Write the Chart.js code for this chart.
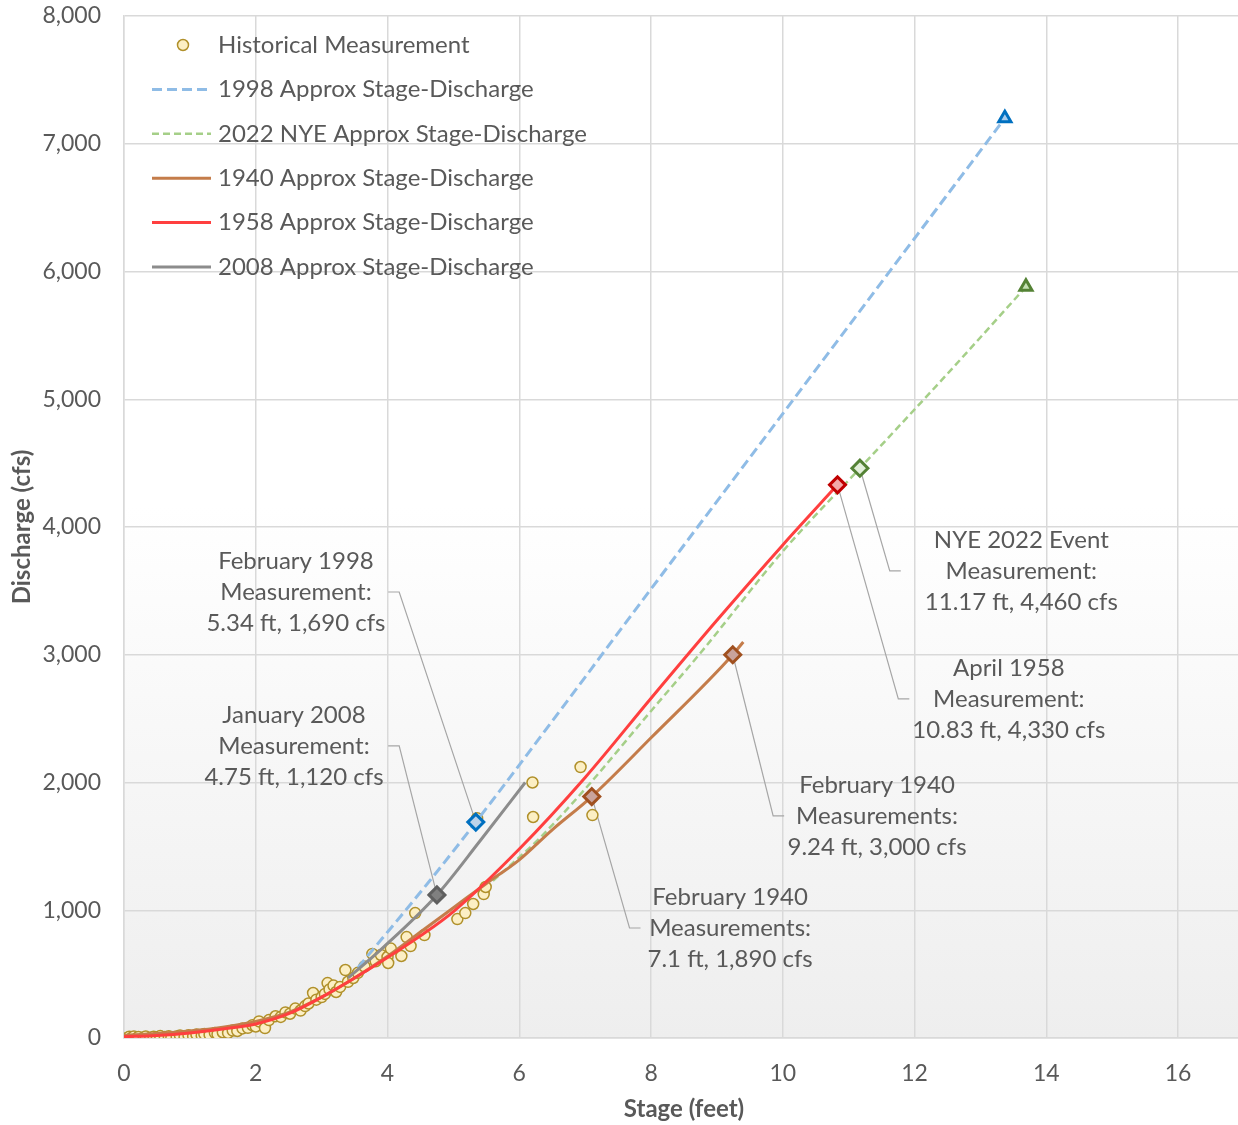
<!DOCTYPE html>
<html>
<head>
<meta charset="utf-8">
<title>Stage-Discharge</title>
<script src="https://cdn.jsdelivr.net/npm/chart.js@4.4.1/dist/chart.umd.min.js"></script>
<style>
  html, body { margin: 0; padding: 0; background: #fff; overflow: hidden; }
  #wrap { width: 1255px; height: 1125px; }
</style>
</head>
<body>
<div id="wrap"><canvas id="chart" width="1255" height="1125"></canvas></div>
<script>
// historical gaugings: stage (ft) / discharge (cfs)
const histStage = [0.05, 0.08, 0.12, 0.15, 0.2, 0.22, 0.3, 0.33, 0.4, 0.45, 0.5, 0.55, 0.62, 0.68, 0.72, 0.8,
  0.85, 0.92, 0.98, 1.05, 1.1, 1.18, 1.22, 1.3, 1.38, 1.42, 1.5, 1.58, 1.65, 1.72, 1.8, 1.88, 1.95, 2.0,
  2.05, 2.14, 2.2, 2.3, 2.38, 2.45, 2.52, 2.6, 2.68, 2.75, 2.8, 2.87, 2.92, 3.0, 3.05, 3.09, 3.12, 3.18,
  3.22, 3.28, 3.36, 3.4, 3.48, 3.55, 3.65, 3.77, 3.82, 3.9, 4.0, 4.01, 4.05, 4.21, 4.29, 4.35, 4.42, 4.56,
  5.06, 5.18, 5.3, 5.46, 5.49, 5.36, 6.2, 6.21, 6.93, 7.11];
const histFlow = [0, 10, 3, 12, 0, 8, 4, 12, 2, 10, 5, 15, 8, 14, 5, 12,
  20, 10, 22, 15, 28, 20, 32, 25, 40, 30, 45, 40, 58, 55, 75, 80, 100, 90,
  130, 78, 140, 170, 165, 200, 190, 230, 215, 250, 270, 352, 300, 320, 345, 430, 380, 410,
  360, 400, 532, 440, 470, 510, 560, 658, 600, 650, 634, 587, 700, 642, 790, 720, 978, 806,
  931, 978, 1049, 1127, 1182, 1720, 2000, 1730, 2121, 1745];

// approximate rating curves
const stage1998 = [3.55, 4.65, 5.34, 8.0, 13.37];
const flow1998 = [550, 1237, 1690, 3515, 7200];
const stage2022 = [5.6, 6.3, 7.0, 8.0, 8.75, 10.0, 11.17, 12.5, 13.69];
const flow2022 = [1230, 1560, 1950, 2560, 3014, 3810, 4460, 5200, 5880];
const stage1940 = [0, 0.5, 1, 1.5, 2, 2.5, 3, 3.5, 4, 4.5, 5, 5.5, 6, 6.5, 7.1, 8, 9.24, 9.4];
const flow1940 = [20, 35, 55, 85, 130, 200, 320, 470, 640, 830, 1020, 1210, 1395, 1630, 1890, 2350, 3000, 3100];
const stage1958 = [0, 0.5, 1, 1.5, 2, 2.5, 3, 3.5, 4, 4.5, 5, 6, 7, 8, 9, 10, 10.83];
const flow1958 = [10, 20, 40, 70, 110, 190, 320, 470, 630, 800, 990, 1480, 2040, 2660, 3270, 3860, 4330];
const stage2008 = [3.4, 3.94, 4.75, 5.4, 6.09];
const flow2008 = [470, 712, 1120, 1540, 2000];

// individual measurements called out on the chart
const measStage = [5.34, 4.75, 7.1, 9.24, 10.83, 11.17];
const measFlow = [1690, 1120, 1890, 3000, 4330, 4460];
const measTitle = ['February 1998', 'January 2008', 'February 1940', 'February 1940', 'April 1958', 'NYE 2022 Event'];
const measWord = ['Measurement:', 'Measurement:', 'Measurements:', 'Measurements:', 'Measurement:', 'Measurement:'];

const xTicks = [0, 2, 4, 6, 8, 10, 12, 14, 16];

const FONT = 'Lato, "Open Sans", sans-serif';
const TXT = '#595959';

function pts(xs, ys) { return xs.map((v, i) => ({ x: v, y: ys[i] })); }
function last(xs, ys) { return [{ x: xs[xs.length - 1], y: ys[ys.length - 1] }]; }

// where each callout text block sits (centre of middle line) and where its leader starts
const calloutPos = [
  { x: 2.61, y: 3491, lead: 4.01 },
  { x: 2.58, y: 2286, lead: 4.01 },
  { x: 9.2, y: 861, lead: 7.84 },
  { x: 11.43, y: 1738, lead: 10.02 },
  { x: 13.43, y: 2654, lead: 11.92 },
  { x: 13.62, y: 3656, lead: 11.79 }
];

const lineBase = { showLine: true, pointRadius: 0, pointHoverRadius: 0, borderWidth: 3,
  tension: 0.4, cubicInterpolationMode: 'monotone', fill: false };

const datasets = [
  { label: 'Historical Measurement', legendRow: 0, data: pts(histStage, histFlow), showLine: false,
    pointRadius: 5.5, pointBorderWidth: 1.5, backgroundColor: '#fcefc4', borderColor: '#b0902a', order: 20 },
  { ...lineBase, label: '1998 Approx Stage-Discharge', legendRow: 1, data: pts(stage1998, flow1998),
    borderColor: '#8fbce6', borderDash: [10, 5], order: 8 },
  { ...lineBase, label: '2022 NYE Approx Stage-Discharge', legendRow: 2, data: pts(stage2022, flow2022),
    borderColor: '#a5cf88', borderWidth: 2.5, borderDash: [7, 4], order: 7 },
  { ...lineBase, label: '1940 Approx Stage-Discharge', legendRow: 3, data: pts(stage1940, flow1940),
    borderColor: '#c47c4a', order: 6 },
  { ...lineBase, label: '1958 Approx Stage-Discharge', legendRow: 4, data: pts(stage1958, flow1958),
    borderColor: '#ff3f3f', order: 4 },
  { ...lineBase, label: '2008 Approx Stage-Discharge', legendRow: 5, data: pts(stage2008, flow2008),
    borderColor: '#8c8c8c', order: 5 },
  // end-of-curve triangles
  { label: '1998 end', data: last(stage1998, flow1998), showLine: false, pointStyle: 'triangle',
    pointRadius: 7, pointBorderWidth: 3, backgroundColor: '#a9cdee', borderColor: '#0070c0', order: 1 },
  { label: '2022 end', data: last(stage2022, flow2022), showLine: false, pointStyle: 'triangle',
    pointRadius: 7, pointBorderWidth: 3, backgroundColor: '#c5e0b4', borderColor: '#548235', order: 1 },
  // measurement diamonds
  { label: 'Measurements', data: pts(measStage, measFlow), showLine: false, pointStyle: 'rectRot',
    pointRadius: 8, pointBorderWidth: 3,
    backgroundColor: ['#bcd3ea', '#808080', '#c9a39b', '#c9a39b', '#f3a9a9', '#e3efda'],
    borderColor: ['#0070c0', '#5f5f5f', '#a0501f', '#a0501f', '#c00000', '#548235'], order: 0 }
];

// plot area fill: white on top fading to light grey at the bottom
const plotBg = {
  id: 'plotBg',
  beforeDraw(chart) {
    const { ctx, chartArea: a } = chart;
    const g = ctx.createLinearGradient(0, a.top, 0, a.bottom);
    g.addColorStop(0, '#ffffff');
    g.addColorStop(0.48, '#ffffff');
    g.addColorStop(1, '#eeeeee');
    ctx.save();
    ctx.fillStyle = g;
    ctx.fillRect(a.left, a.top, a.right - a.left, a.bottom - a.top);
    ctx.restore();
  }
};

// text callouts with elbow leader lines
const callouts = {
  id: 'callouts',
  beforeDatasetsDraw(chart) {
    const { ctx, scales: { x, y } } = chart;
    ctx.save();
    ctx.font = '24px ' + FONT;
    ctx.textAlign = 'center';
    ctx.textBaseline = 'middle';
    measStage.forEach((s, i) => {
      const p = calloutPos[i];
      const cx = x.getPixelForValue(p.x);
      const cy = y.getPixelForValue(p.y);
      const lines = [measTitle[i], measWord[i], s + ' ft, ' + measFlow[i].toLocaleString('en-US') + ' cfs'];
      ctx.fillStyle = TXT;
      lines.forEach((t, k) => ctx.fillText(t, cx, cy + (k - 1) * 31));
      const lx = x.getPixelForValue(p.lead);
      const dir = p.lead > p.x ? 1 : -1;
      ctx.strokeStyle = '#a6a6a6';
      ctx.lineWidth = 1.2;
      ctx.beginPath();
      ctx.moveTo(lx, cy);
      ctx.lineTo(lx + dir * 11, cy);
      ctx.lineTo(x.getPixelForValue(s), y.getPixelForValue(measFlow[i]));
      ctx.stroke();
    });
    ctx.restore();
  }
};

// legend stacked inside the top-left of the plot
const insideLegend = {
  id: 'insideLegend',
  afterDraw(chart) {
    const ctx = chart.ctx;
    ctx.save();
    ctx.font = '24px ' + FONT;
    ctx.textBaseline = 'middle';
    ctx.textAlign = 'left';
    chart.data.datasets.forEach(ds => {
      if (ds.legendRow === undefined) return;
      const yy = 45 + ds.legendRow * 44.4;
      if (ds.showLine) {
        ctx.strokeStyle = ds.borderColor;
        ctx.lineWidth = ds.borderWidth;
        ctx.setLineDash(ds.borderDash || []);
        ctx.beginPath();
        ctx.moveTo(152, yy);
        ctx.lineTo(211, yy);
        ctx.stroke();
        ctx.setLineDash([]);
      } else {
        ctx.fillStyle = ds.backgroundColor;
        ctx.strokeStyle = ds.borderColor;
        ctx.lineWidth = ds.pointBorderWidth;
        ctx.beginPath();
        ctx.arc(183, yy, ds.pointRadius, 0, Math.PI * 2);
        ctx.fill();
        ctx.stroke();
      }
      ctx.fillStyle = TXT;
      ctx.fillText(ds.label, 218, yy);
    });
    ctx.restore();
  }
};

new Chart(document.getElementById('chart'), {
  type: 'scatter',
  data: { datasets },
  plugins: [plotBg, callouts, insideLegend],
  options: {
    responsive: false,
    animation: false,
    layout: { padding: { top: 16, right: 2, left: 0, bottom: 0 } },
    plugins: { legend: { display: false }, tooltip: { enabled: false } },
    scales: {
      x: {
        type: 'linear', min: 0, max: 17,
        afterBuildTicks: s => { s.ticks = xTicks.map(v => ({ value: v })); },
        afterFit: s => { s.height = 87; s.paddingLeft = 0; s.paddingRight = 0; },
        grid: { color: '#d9d9d9', lineWidth: 1.5, drawTicks: false },
        border: { color: '#d9d9d9', width: 1.5 },
        ticks: { padding: 22, color: TXT, font: { family: FONT, size: 23 } },
        title: { display: true, text: 'Stage (feet)', color: TXT, padding: { top: 0, bottom: 1 },
          font: { family: FONT, size: 24, weight: 'bold' } }
      },
      y: {
        min: 0, max: 8000,
        afterFit: s => { s.width = 124; s.paddingTop = 0; s.paddingBottom = 0; },
        grid: { color: '#d9d9d9', lineWidth: 1.5, drawTicks: false },
        border: { color: '#d9d9d9', width: 1.5 },
        ticks: { stepSize: 1000, padding: 23, color: TXT, font: { family: FONT, size: 23 },
          callback: v => v.toLocaleString('en-US') },
        title: { display: true, text: 'Discharge (cfs)', color: TXT, padding: { top: 8, bottom: 0 },
          font: { family: FONT, size: 24, weight: 'bold' } }
      }
    }
  }
});
</script>
</body>
</html>
